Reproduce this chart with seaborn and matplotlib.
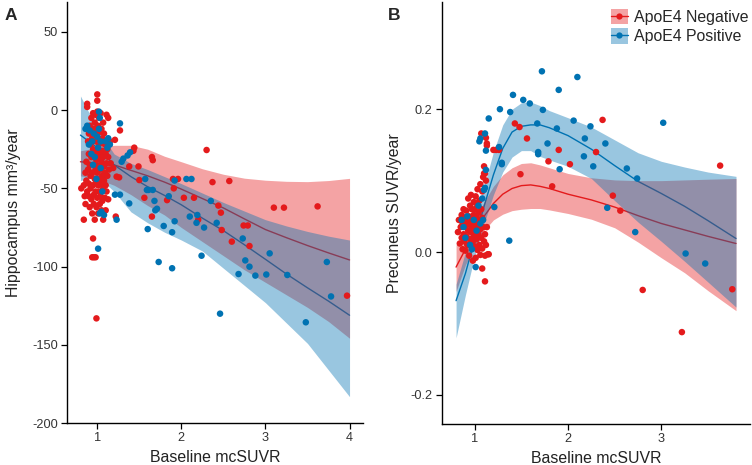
import numpy as np
import pandas as pd
import matplotlib
matplotlib.use("Agg")
import matplotlib.pyplot as plt
import seaborn as sns
from matplotlib.patches import Patch
from matplotlib.lines import Line2D

sns.set_style("white")
plt.rcParams['font.family'] = ['Liberation Sans', 'DejaVu Sans']
plt.rcParams['axes.unicode_minus'] = False

groups = ["ApoE4 Negative", "ApoE4 Positive"]
colors = {"ApoE4 Negative": "#E41A1C", "ApoE4 Positive": "#0072B2"}

# ---------------- Panel A: Hippocampus ----------------
a_neg_x = [0.81,0.84,0.84,0.85,0.86,0.86,0.87,0.87,0.88,0.88,0.88,0.89,0.89,0.90,0.90,0.90,0.90,0.91,0.91,0.91,
           0.92,0.92,0.92,0.93,0.93,0.93,0.94,0.94,0.94,0.95,0.95,0.95,0.96,0.96,0.96,0.96,0.97,0.97,0.97,0.97,
           0.98,0.98,0.98,0.98,0.99,0.99,0.99,0.99,1.00,1.00,1.00,1.00,1.00,1.00,1.01,1.01,1.01,1.01,1.02,1.02,
           1.02,1.02,1.03,1.03,1.03,1.03,1.04,1.04,1.04,1.04,1.05,1.05,1.05,1.05,1.06,1.06,1.06,1.06,1.07,1.07,
           1.07,1.07,1.08,1.08,1.08,1.09,1.09,1.09,1.10,1.10,1.10,1.11,1.11,1.11,1.12,1.12,1.13,1.13,1.13,1.14,
           1.15,1.16,
           0.99,0.95,0.94,0.96,0.98,1.19,1.21,1.22,1.23,1.26,1.27,1.38,1.44,1.43,1.49,1.50,1.56,1.65,1.66,1.65,
           1.83,1.90,1.96,1.91,2.03,2.15,2.20,2.30,2.37,2.57,2.44,2.47,2.48,2.60,2.74,2.79,2.81,3.10,3.22,3.62,3.97]
a_neg_y = [-50,-48,-70,-55,-40,-60,-33,-45,4,2,-52,-20,-38,-15,-28,-47,-55,-10,-35,-62,
           -22,-42,-50,-5,-30,-57,-18,-40,-66,-2,-25,-48,-12,-35,-54,-60,-8,-28,-44,-70,
           -3,-20,-38,-52,-15,-32,-46,-62,10,6,-1,-25,-40,-56,-10,-30,-48,-66,-5,-22,
           -36,-52,-14,-28,-44,-60,-2,-20,-38,-55,-12,-33,-47,-64,-18,-26,-42,-58,-8,-30,
           -50,-70,-15,-36,-45,-22,-40,-56,-28,-48,-64,-3,-34,-52,-25,-42,-5,-30,-57,-38,
           -20,-34,
           -133,-82,-94,-94,-94,-37,-19,-68,-42.5,-43,-13,-36,-24,-26,-36,-44.7,-56,-30,-32,-68,
           -57.5,-44,-44,-50,-56,-56,-70,-25.5,-46,-45.3,-61,-65.5,-76.6,-84,-73.7,-73.7,-86.8,-62.3,-62.3,-61.5,-118.5]
a_pos_x = [0.86,0.88,0.90,0.91,0.93,0.94,0.95,0.96,0.97,0.99,1.00,1.01,1.02,1.02,1.03,1.04,1.04,1.05,1.06,1.08,
           1.10,1.12,1.13,1.15,1.01,1.03,
           1.27,1.29,1.31,1.36,1.39,1.38,1.21,1.27,1.23,1.57,1.59,1.61,1.66,1.68,1.69,1.71,1.60,1.79,1.89,
           1.92,1.73,1.89,1.85,1.92,2.06,2.12,2.10,2.19,2.18,2.27,2.24,2.35,2.42,2.46,2.73,2.76,2.81,2.68,
           2.88,3.01,3.05,3.26,3.48,3.73,3.78]
a_pos_y = [-12,-10,-22,-13,-28,-20,-35,-15,-30,-44,-17,-24,-1,-12,-5,-37,-20,-65,-52,-67,
           -20,-24,-18,-22,-88.5,-66,
           -8.5,-33,-31,-29,-27,-59.6,-54,-54,-70,-44,-51,-51,-51,-58,-64,-63,-76,-74,-78,
           -71,-97,-101,-55,-45,-44,-44,-68,-67,-72,-75,-93,-58,-72,-130,-82,-96,-100,-104.7,
           -105.7,-105,-91.5,-105.3,-135.5,-97,-119]

a_fit_x = [0.80,1.00,1.20,1.40,1.60,1.80,2.00,2.25,2.50,2.75,3.00,3.25,3.50,3.75,4.00]
a_neg_fit = [-33,-34,-35,-38.5,-42,-46,-50.5,-56.5,-62.5,-69.5,-76.3,-81.5,-86.5,-91.2,-95.7]
a_neg_hi = [-26,-24,-22.5,-22.5,-25,-29.5,-33,-37.5,-41,-43.5,-44.8,-45.5,-45.7,-45,-43.6]
a_neg_lo = [-42,-44,-48,-54,-61,-67,-75,-84,-93,-102,-110,-118,-126,-135,-145.7]
a_pos_fit = [-16,-24,-35,-42.5,-49,-54.5,-60.5,-69,-77,-86,-95.3,-104.7,-113.5,-122,-131]
a_pos_hi = [9,-12,-28,-34,-38,-42.5,-47,-53,-59,-64.5,-70,-74,-77.5,-80.5,-83]
a_pos_lo = [-45,-42,-52,-65,-72,-78,-83,-90,-101,-112,-123,-136,-149,-166,-183]

# ---------------- Panel B: Precuneus ----------------
b_neg_x = [0.82,0.83,0.84,0.85,0.86,0.86,0.87,0.87,0.88,0.88,0.89,0.89,0.90,0.90,0.91,0.91,0.92,0.92,0.93,0.93,
           0.94,0.94,0.95,0.95,0.95,0.96,0.96,0.97,0.97,0.97,0.98,0.98,0.98,0.99,0.99,0.99,1.00,1.00,1.00,1.01,
           1.01,1.01,1.02,1.02,1.02,1.03,1.03,1.03,1.04,1.04,1.05,1.05,1.05,1.06,1.06,1.06,1.07,1.07,1.08,1.08,
           1.08,1.09,1.09,1.10,1.10,1.11,1.11,1.12,1.13,1.14,1.15,1.12,
           1.07,1.12,1.13,1.13,1.20,1.23,1.26,1.10,1.11,1.11,1.08,1.43,1.48,1.56,2.37,3.63,2.30,1.90,1.79,2.02,
           1.49,1.83,2.48,2.56,2.80,3.22,3.76]
b_neg_y = [0.028,0.045,0.012,0.035,0.052,0.020,0.004,0.040,0.060,0.025,0.015,0.048,0.035,0.002,0.058,0.022,0.042,0.010,0.075,0.030,
           -0.005,0.050,0.065,0.018,0.038,0.080,0.028,0.005,0.045,0.060,0.015,0.035,-0.012,0.052,0.070,0.022,0.040,0.008,0.060,0.030,
           0.078,-0.008,0.048,0.018,0.068,0.038,0.003,0.088,0.055,0.025,0.072,0.010,0.042,0.095,0.032,-0.004,0.060,0.020,0.048,0.085,
           0.005,0.035,0.105,0.015,0.110,0.025,-0.005,0.100,0.035,-0.003,-0.003,0.010,
           0.166,0.160,0.152,0.149,0.143,0.143,0.143,0.120,0.110,-0.041,-0.023,0.180,0.175,0.159,0.185,0.121,0.140,0.143,0.127,0.123,
           0.109,0.092,0.079,0.058,-0.053,-0.112,-0.052]
b_pos_x = [0.86,0.88,0.90,0.92,0.95,0.97,0.99,1.02,1.04,1.06,1.08,1.09,1.01,1.10,1.11,
           1.06,1.05,1.11,1.12,1.72,2.10,1.90,1.41,1.52,1.59,1.27,1.38,1.73,1.15,2.06,2.24,3.02,1.67,1.88,
           2.18,1.78,2.40,1.26,1.68,1.68,2.17,2.27,1.29,1.29,1.91,2.63,2.74,1.12,1.21,2.42,2.72,1.37,3.26,3.47]
b_pos_y = [0.045,0.035,0.020,0.050,0.010,0.004,0.045,0.030,0.065,0.040,0.075,0.045,-0.021,0.087,0.090,
           0.159,0.155,0.166,0.142,0.253,0.245,0.227,0.220,0.213,0.208,0.200,0.196,0.199,0.187,0.184,0.176,0.181,0.180,0.173,
           0.159,0.152,0.152,0.147,0.140,0.137,0.134,0.120,0.125,0.123,0.116,0.117,0.103,0.115,0.063,0.062,0.028,0.016,-0.002,-0.016]

b_fit_x = [0.80,0.90,1.00,1.10,1.20,1.30,1.40,1.50,1.60,1.70,1.80,2.00,2.25,2.50,2.75,3.00,3.25,3.50,3.80]
b_neg_fit = [-0.021,0.004,0.026,0.050,0.068,0.081,0.089,0.093,0.094,0.092,0.089,0.081,0.073,0.063,0.051,0.040,0.031,0.022,0.012]
b_neg_hi = [0.010,0.025,0.045,0.070,0.092,0.108,0.118,0.124,0.125,0.122,0.118,0.110,0.104,0.101,0.100,0.100,0.101,0.102,0.103]
b_neg_lo = [-0.055,-0.018,0.008,0.030,0.045,0.053,0.058,0.060,0.061,0.061,0.059,0.054,0.046,0.034,0.014,-0.008,-0.029,-0.054,-0.082]
b_pos_fit = [-0.068,-0.030,0.018,0.064,0.108,0.145,0.168,0.176,0.178,0.178,0.174,0.163,0.144,0.121,0.099,0.082,0.064,0.044,0.019]
b_pos_hi = [-0.045,0.000,0.045,0.092,0.140,0.178,0.200,0.209,0.210,0.205,0.198,0.188,0.175,0.157,0.139,0.127,0.119,0.112,0.106]
b_pos_lo = [-0.120,-0.060,-0.005,0.040,0.080,0.112,0.133,0.142,0.142,0.134,0.129,0.120,0.103,0.072,0.042,0.015,-0.013,-0.042,-0.077]

W, H = 752, 465
fig = plt.figure(figsize=(W / 100, H / 100), dpi=100)
axA = fig.add_axes([67 / W, 1 - 423.3 / H, 296 / W, 421.3 / H])
axB = fig.add_axes([441.7 / W, 1 - 424 / H, 308.3 / W, 422 / H])


def draw(ax, negx, negy, posx, posy, fx, nfit, nhi, nlo, pfit, phi, plo):
    pts = pd.DataFrame({
        "x": list(negx) + list(posx),
        "y": list(negy) + list(posy),
        "group": [groups[0]] * len(negx) + [groups[1]] * len(posx),
    })
    fit = pd.DataFrame({
        "x": list(fx) * 2,
        "y": list(nfit) + list(pfit),
        "group": [groups[0]] * len(fx) + [groups[1]] * len(fx),
    })
    sns.lineplot(data=fit, x="x", y="y", hue="group", hue_order=groups, palette=colors,
                 ax=ax, legend=False, linewidth=1.0, zorder=1, sort=True)
    ax.fill_between(fx, nlo, nhi, color=colors[groups[0]], alpha=0.4, linewidth=0, zorder=2)
    ax.fill_between(fx, plo, phi, color=colors[groups[1]], alpha=0.4, linewidth=0, zorder=2)
    sns.scatterplot(data=pts, x="x", y="y", hue="group", hue_order=groups, palette=colors,
                    ax=ax, legend=False, s=22, linewidth=0, alpha=1, zorder=3)


draw(axA, a_neg_x, a_neg_y, a_pos_x, a_pos_y, a_fit_x, a_neg_fit, a_neg_hi, a_neg_lo,
     a_pos_fit, a_pos_hi, a_pos_lo)
draw(axB, b_neg_x, b_neg_y, b_pos_x, b_pos_y, b_fit_x, b_neg_fit, b_neg_hi, b_neg_lo,
     b_pos_fit, b_pos_hi, b_pos_lo)

axA.set_xlim(0.64, 4.16)
axA.set_ylim(-200, 69)
axA.set_xticks([1, 2, 3, 4])
axA.set_yticks([-200, -150, -100, -50, 0, 50])
axB.set_xlim(0.646, 3.95)
axB.set_ylim(-0.2406, 0.35)
axB.set_xticks([1, 2, 3])
axB.set_yticks([-0.2, 0.0, 0.2])
axB.set_yticklabels(["-0.2", "0.0", "0.2"])

for ax in (axA, axB):
    sns.despine(ax=ax)
    for s in ("left", "bottom"):
        ax.spines[s].set_color("black")
        ax.spines[s].set_linewidth(1.0)
    ax.tick_params(axis="both", direction="out", length=4, width=0.9, color="black",
                   labelsize=9.2, labelcolor="#333333", pad=2.5, left=True, bottom=True)
    ax.set_xlabel("Baseline mcSUVR", fontsize=11.4, color="#222222", va="top")
    ax.xaxis.set_label_coords(0.5, -27 / 421)

axA.set_ylabel("Hippocampus mm³/year", fontsize=11.4, color="#222222")
axA.yaxis.set_label_coords((21 - 67) / 296, 0.5)
axB.set_ylabel("Precuneus SUVR/year", fontsize=11.4, color="#222222")
axB.yaxis.set_label_coords((402 - 441.7) / 308.3, 0.5)

fig.text(5 / W, 1 - 20 / H, "A", fontsize=12.5, fontweight="bold", va="baseline")
fig.text(388 / W, 1 - 20 / H, "B", fontsize=12.5, fontweight="bold", va="baseline")

handles = []
for g in groups:
    handles.append((Patch(facecolor=colors[g], alpha=0.4, edgecolor="none"),
                    Line2D([], [], color=colors[g], linewidth=1.0, marker="o",
                           markersize=4.5, markeredgewidth=0)))
axB.legend(handles=handles, labels=groups, loc="upper left",
           bbox_to_anchor=(610.7 / W, 1 - 9.3 / H), bbox_transform=fig.transFigure,
           frameon=False, fontsize=11.4, borderpad=0, borderaxespad=0,
           handlelength=1.1, handleheight=1.1, handletextpad=0.35, labelspacing=0.2)

fig.savefig("out.png", dpi=100)
